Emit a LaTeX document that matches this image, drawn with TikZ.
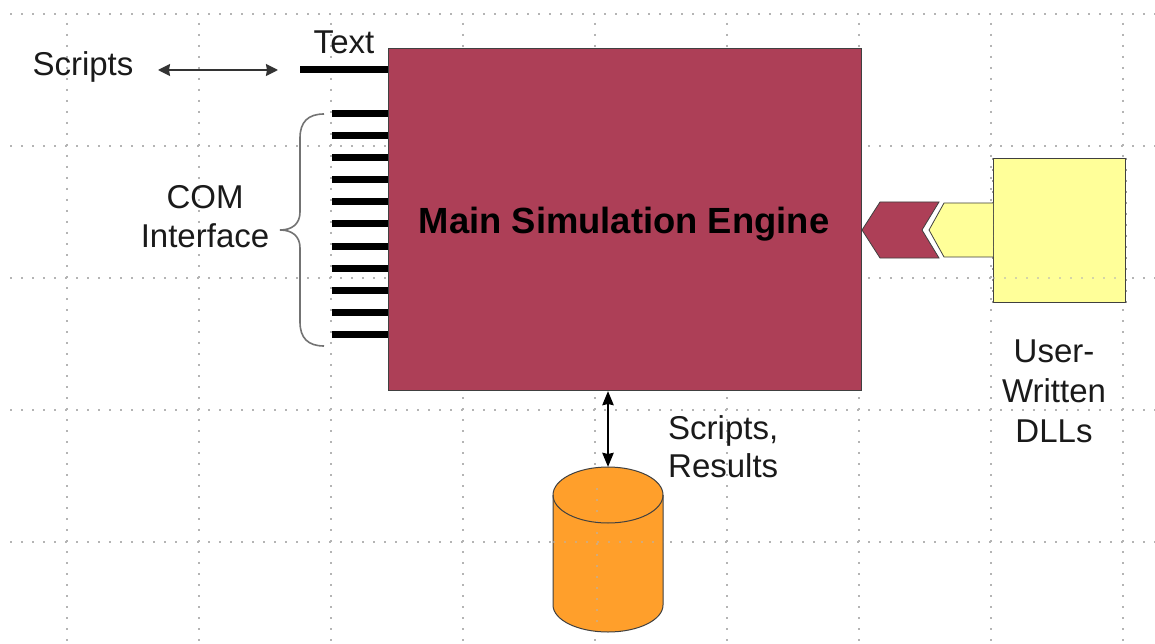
\documentclass[tikz,border=0pt]{standalone}
\usepackage{fontspec}
\setmainfont{Liberation Sans}
\definecolor{maroon}{HTML}{AD3F57}
\definecolor{paleyellow}{HTML}{FFFF99}
\definecolor{drum}{HTML}{FF9F2B}
\definecolor{ink}{HTML}{1A1A1A}
\definecolor{griddot}{HTML}{B4B4B4}
\tikzset{
  lab/.style={font=\fontsize{33}{39}\selectfont, text=ink, inner sep=0pt, align=center},
  griddots/.style={griddot, line width=2pt, dash pattern=on 2pt off 9pt},
  griddotsover/.style={griddots, opacity=.55},
  stub/.style={black, line width=7pt},
  outline/.style={draw=black!75, line width=1pt},
  thinarrow/.style={{Stealth[length=12pt,width=12pt,inset=1pt]}-{Stealth[length=12pt,width=12pt,inset=1pt]}, black!80, line width=1.8pt},
  thickarrow/.style={{Stealth[length=14pt,width=11pt,inset=1pt]}-{Stealth[length=14pt,width=11pt,inset=1pt]}, black, line width=2.8pt},
}
\usetikzlibrary{arrows.meta,calc}
\begin{document}
\begin{tikzpicture}[x=1pt,y=-1pt]
\useasboundingbox (0,0) rectangle (1155,644);
\fill[white] (0,0) rectangle (1155,644);
% grid
\foreach \yy in {14,146,278,410,542}
  \draw[griddots] (10,\yy) -- (1155,\yy);
\foreach \xx in {67,199,331,463,595,727,859,991,1123}
  \draw[griddots] (\xx,23) -- (\xx,644);

% main engine
\node[outline, fill=maroon, minimum width=473pt, minimum height=342pt, inner sep=0pt, anchor=north west] (engine) at (388,48) {};
\node[font=\bfseries\fontsize{36.4}{40}\selectfont, text=black, inner sep=0pt] (enginelabel) at (624,224) {Main Simulation Engine};

% DLL block
\node[outline, fill=paleyellow, minimum width=132pt, minimum height=144pt, inner sep=0pt, anchor=north west] (dll) at (993,158) {};
\draw[griddotsover, black!70] (dll.north west) -- (dll.south west);
\draw[griddotsover, black!70] (dll.north east) -- (dll.south east);
\draw[griddotsover] (993,278) -- (1125,278);
% chevrons
\draw[outline, line width=.8pt, fill=paleyellow] (dll.west |- 0,203) -- (944,203) -- (929,230) -- (944,257) -- (dll.west |- 0,257);
\draw[outline, line width=.8pt, fill=maroon] (engine.east |- 0,230) -- (880,202) -- (939,202) -- (922,230) -- (939,258) -- (880,258) -- cycle;

% drum
\coordinate (drumtop) at (608,467);
\draw[outline, fill=drum] (553,495) -- (553,605) arc[start angle=180, end angle=0, x radius=55, y radius=27] -- (663,495) arc[start angle=0, end angle=-180, x radius=55, y radius=28] -- cycle;
\draw[griddotsover] (597,488) -- (597,625);
\draw[griddotsover] (553,542) -- (663,542);
\draw[outline] (553,495) arc[start angle=180, end angle=0, x radius=55, y radius=28];

% connectors
\coordinate (enginebottom) at (engine.south -| drumtop);
\draw[thickarrow] (enginebottom) -- (drumtop);
\coordinate (textstub) at (300,70);
\draw[stub] (textstub) -- (textstub -| engine.west);
\foreach \k in {0,...,10}{
  \coordinate (s) at (332,113.5+22.1*\k);
  \draw[stub] (s) -- (s -| engine.west);
}
\coordinate (arrowl) at (158,70);
\coordinate (arrowr) at (278,70);
\draw[thinarrow] (arrowl) -- (arrowr);
% brace
\coordinate (bracetop) at (324,114);
\coordinate (bracebot) at (324,346);
\coordinate (bracetip) at (280,230);
\draw[black!55, line width=1.6pt] (bracetop) .. controls (308,114) and (300,122) .. (300,138) -- (300,212) .. controls (300,224) and (292,230) .. (bracetip) .. controls (292,230) and (300,236) .. (300,248) -- (300,322) .. controls (300,338) and (308,346) .. (bracebot);

% labels
\node[lab] (scripts) at (83,67) {Scripts};
\node[lab] (textlab) at (344,42) {Text};
\node[lab] (com) at (205,216.5) {COM\\Interface};
\node[lab, align=left, anchor=west, font=\fontsize{33}{38}\selectfont] (results) at (668,447) {Scripts,\\Results};
\node[lab, font=\fontsize{33}{40}\selectfont] (dlllab) at (1054,391) {User-\\Written\\DLLs};
\end{tikzpicture}
\end{document}
